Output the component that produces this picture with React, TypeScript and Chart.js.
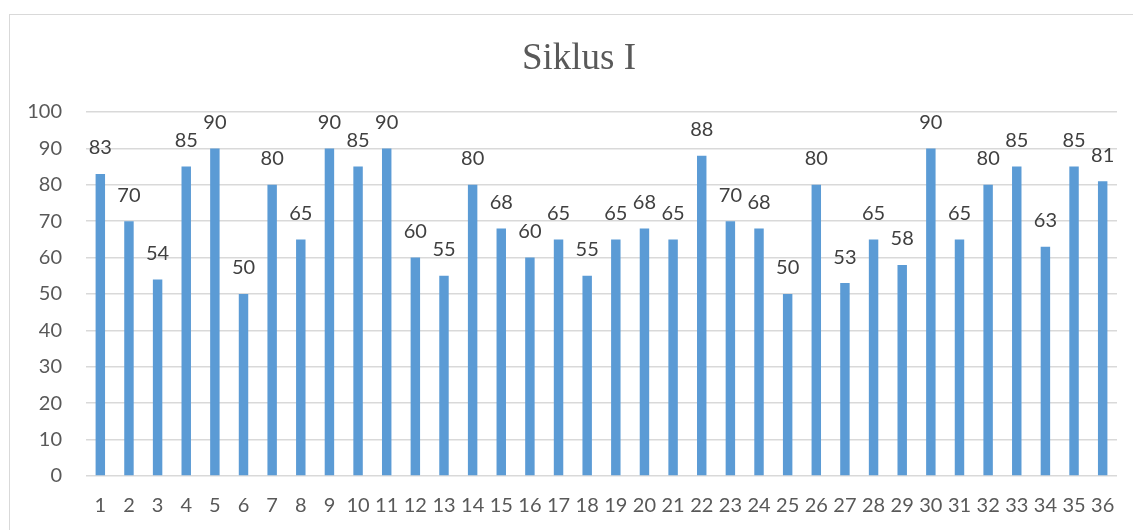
import React, { useEffect, useRef } from "react";
import { Chart, registerables } from "chart.js";

Chart.register(...registerables);

const categories: string[] = Array.from({ length: 36 }, (_, i) => String(i + 1));
const values: number[] = [
  83, 70, 54, 85, 90, 50, 80, 65, 90, 85, 90, 60, 55, 80, 68, 60, 65, 55,
  65, 68, 65, 88, 70, 68, 50, 80, 53, 65, 58, 90, 65, 80, 85, 63, 85, 81,
];
const yTicks: number[] = [0, 10, 20, 30, 40, 50, 60, 70, 80, 90, 100];
const titleText = "Siklus I";

const dataLabelPlugin = {
  id: "dataLabels",
  afterDatasetsDraw(chart: any) {
    const ctx = chart.ctx;
    const meta = chart.getDatasetMeta(0);
    ctx.save();
    ctx.font = "20px Lato";
    ctx.fillStyle = "#404040";
    ctx.textAlign = "center";
    ctx.textBaseline = "bottom";
    meta.data.forEach((bar: any, i: number) => {
      ctx.fillText(String(values[i]), bar.x, bar.y - 16);
    });
    ctx.restore();
  },
};

const frameAndTitlePlugin = {
  id: "frameAndTitle",
  beforeDraw(chart: any) {
    const ctx = chart.ctx;
    ctx.save();
    ctx.fillStyle = "#ffffff";
    ctx.fillRect(0, 0, chart.width, chart.height);
    ctx.strokeStyle = "#D9D9D9";
    ctx.lineWidth = 1;
    ctx.strokeRect(9.5, 14.5, 1300, 700);
    ctx.font = "37px 'Liberation Serif'";
    ctx.fillStyle = "#595959";
    ctx.textAlign = "center";
    ctx.textBaseline = "alphabetic";
    ctx.fillText(titleText, 579, 69);
    ctx.restore();
  },
};

export default function App() {
  const ref = useRef<HTMLCanvasElement | null>(null);
  useEffect(() => {
    if (!ref.current) return;
    const chart = new Chart(ref.current, {
      type: "bar",
      data: {
        labels: categories,
        datasets: [
          {
            data: values,
            backgroundColor: "#5B9BD5",
            barPercentage: 0.33,
            categoryPercentage: 1,
          },
        ],
      },
      options: {
        animation: false,
        responsive: false,
        maintainAspectRatio: false,
        layout: { padding: { left: 0, right: 16, top: 112, bottom: 0 } },
        plugins: {
          legend: { display: false },
          tooltip: { enabled: false },
          title: { display: false },
        },
        scales: {
          x: {
            grid: { display: false, drawTicks: false },
            border: { display: false },
            ticks: {
              color: "#595959",
              font: { family: "Lato", size: 20 },
              padding: 18,
              autoSkip: false,
              maxRotation: 0,
            },
            afterFit(scale: any) {
              scale.height = 54;
            },
          },
          y: {
            min: 0,
            max: 100,
            afterBuildTicks(scale: any) {
              scale.ticks = yTicks.map((v) => ({ value: v }));
            },
            grid: { color: "#D9D9D9", lineWidth: 1.5, drawTicks: false },
            border: { display: false },
            ticks: {
              color: "#595959",
              font: { family: "Lato", size: 20 },
              padding: 24,
            },
            afterFit(scale: any) {
              scale.width = 86;
            },
          },
        },
      },
      plugins: [frameAndTitlePlugin, dataLabelPlugin],
    });
    return () => chart.destroy();
  }, []);
  return (
    <div style={{ position: "absolute", left: 0, top: 0, width: 1133, height: 530 }}>
      <canvas ref={ref} width={1133} height={530} style={{ display: "block" }} />
    </div>
  );
}
